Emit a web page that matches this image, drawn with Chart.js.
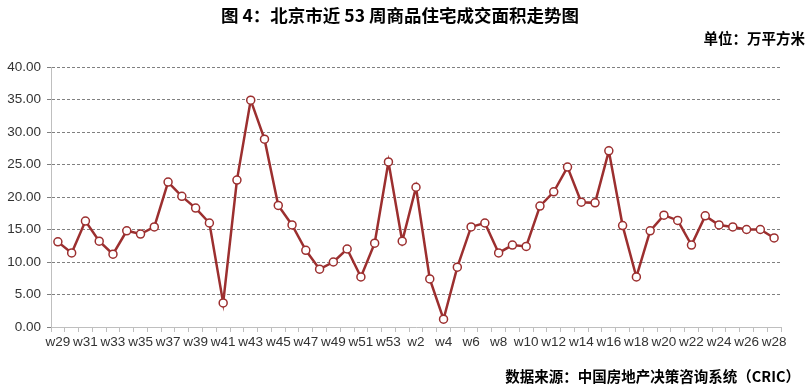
<!DOCTYPE html>
<html>
<head>
<meta charset="utf-8">
<script src="https://cdn.jsdelivr.net/npm/chart.js@4"></script>
<style>
  html, body { margin: 0; padding: 0; background: #fff; }
  #wrap { position: relative; width: 811px; height: 392px; }
  #chart { position: absolute; left: 0; top: 0; }
  .txt { position: absolute; font-family: "Noto Sans CJK SC", sans-serif; font-weight: bold; color: #000; white-space: nowrap; line-height: 1; }
  #title { left: 0; width: 800px; top: 6px; text-align: center; font-size: 17.5px; }
  #unit { right: 6px; top: 31px; font-size: 14.5px; }
  #source { right: 11px; top: 369px; font-size: 14.5px; }
</style>
</head>
<body>
<div id="wrap">
  <canvas id="chart" width="811" height="392"></canvas>
  <div id="title" class="txt">图 4：北京市近 53 周商品住宅成交面积走势图</div>
  <div id="unit" class="txt">单位：万平方米</div>
  <div id="source" class="txt">数据来源：中国房地产决策咨询系统（CRIC）</div>
</div>
<script>
// weekly labels: w29..w53 then w1..w28
const weeks = ["w29","w30","w31","w32","w33","w34","w35","w36","w37","w38","w39","w40","w41","w42","w43","w44","w45","w46","w47","w48","w49","w50","w51","w52","w53",
  "w1","w2","w3","w4","w5","w6","w7","w8","w9","w10","w11","w12","w13","w14","w15","w16","w17","w18","w19","w20","w21","w22","w23","w24","w25","w26","w27","w28"];

// 成交面积 (万平方米)
const area = [13.1, 11.4, 16.3, 13.2, 11.2, 14.8, 14.3, 15.4, 22.3, 20.1, 18.3, 16.0, 3.7, 22.6, 34.9, 28.9, 18.7, 15.7, 11.8, 8.9, 10.0, 12.0, 7.7, 12.9, 25.4,
  13.2, 21.5, 7.4, 1.2, 9.2, 15.4, 16.0, 11.4, 12.6, 12.4, 18.6, 20.8, 24.6, 19.2, 19.1, 27.1, 15.6, 7.7, 14.8, 17.2, 16.4, 12.6, 17.1, 15.7, 15.4, 15.0, 15.0, 13.7];

const yTicks = [0, 5, 10, 15, 20, 25, 30, 35, 40];

const lineColor = "#9c2f2f";

new Chart(document.getElementById("chart"), {
  type: "line",
  data: {
    labels: weeks,
    datasets: [{
      data: area,
      borderColor: lineColor,
      borderWidth: 2.5,
      pointRadius: 4,
      pointBorderWidth: 1.5,
      pointBackgroundColor: "#fff",
      pointBorderColor: lineColor,
      tension: 0
    }]
  },
  options: {
    responsive: false,
    animation: false,
    layout: { padding: { left: 0, right: 30, top: 67, bottom: 40 } },
    plugins: { legend: { display: false }, tooltip: { enabled: false } },
    scales: {
      x: {
        offset: true,
        grid: { offset: true, drawOnChartArea: false, drawTicks: true, tickLength: 5, color: "#bfbfbf" },
        border: { color: "#bfbfbf" },
        ticks: {
          autoSkip: false, maxRotation: 0, padding: 2,
          color: "#333", font: { family: "Liberation Sans, Arial", size: 13.5 },
          callback: function(v, i) { return i % 2 === 0 ? weeks[i] : ""; }
        },
        afterFit: function(s) { s.height = 25; }
      },
      y: {
        min: 0, max: 40,
        afterBuildTicks: function(s) { s.ticks = yTicks.map(v => ({ value: v })); },
        grid: { color: "#808080", drawTicks: true, tickLength: 4, lineWidth: 1 },
        border: { color: "#bfbfbf", dash: [3, 2] },
        ticks: {
          padding: 6, color: "#333", font: { family: "Liberation Sans, Arial", size: 13.5 },
          callback: v => v.toFixed(2)
        },
        afterFit: function(s) { s.width = 51; }
      }
    }
  }
});
</script>
</body>
</html>
